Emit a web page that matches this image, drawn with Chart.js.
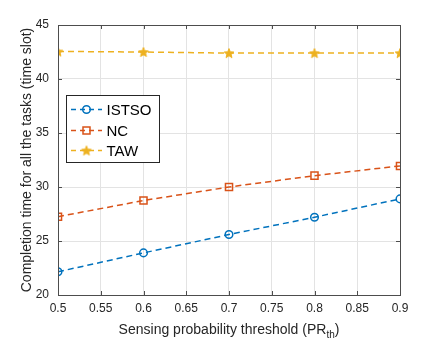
<!DOCTYPE html>
<html><head><meta charset="utf-8">
<script src="https://cdn.jsdelivr.net/npm/chart.js@4/dist/chart.umd.min.js"></script>
<style>html,body{margin:0;padding:0;background:#fff}#wrap{width:443px;height:344px}</style>
</head><body><div id="wrap"><canvas id="c" width="443" height="344"></canvas></div>
<script>
const thresholds = [0.5, 0.6, 0.7, 0.8, 0.9];
const istso = [22.15, 23.9, 25.6, 27.2, 28.9];
const nc = [27.25, 28.75, 30.0, 31.05, 31.95];
const taw = [42.55, 42.5, 42.4, 42.4, 42.4];
const seriesNames = ['ISTSO', 'NC', 'TAW'];
const xTickValues = [0.5, 0.55, 0.6, 0.65, 0.7, 0.75, 0.8, 0.85, 0.9];
const yTickValues = [20, 25, 30, 35, 40, 45];
const yTitle = 'Completion time for all the tasks (time slot)';
const xTitleMain = 'Sensing probability threshold (PR';
const xTitleSub = 'th';
const xTitleEnd = ')';

const COLORS = ['#0072BD', '#D95319', '#EDB120'];
const FONT = '"Liberation Sans", Arial, Helvetica, sans-serif';
const TXT = '#262626';

function starPath(ctx, cx, cy, R, r) {
  ctx.beginPath();
  for (let i = 0; i < 10; i++) {
    const rad = i % 2 === 0 ? R : r;
    const a = -Math.PI / 2 + i * Math.PI / 5;
    const px = cx + rad * Math.cos(a), py = cy + rad * Math.sin(a);
    if (i === 0) ctx.moveTo(px, py); else ctx.lineTo(px, py);
  }
  ctx.closePath();
}
const starImg = document.createElement('canvas');
starImg.width = 12; starImg.height = 12;
(function () {
  const g = starImg.getContext('2d');
  starPath(g, 6, 6.5, 5, 2.2);
  g.fillStyle = COLORS[2]; g.fill();
  g.strokeStyle = COLORS[2]; g.lineWidth = 1; g.stroke();
})();

function toPoints(vals) { return thresholds.map((x, i) => ({ x: x, y: vals[i] })); }

const dsBase = { borderWidth: 1.5, borderDash: [6, 4], fill: false, tension: 0, pointBorderWidth: 1.5, pointBackgroundColor: 'rgba(0,0,0,0)' };
const datasets = [
  Object.assign({}, dsBase, { label: seriesNames[0], data: toPoints(istso), borderColor: COLORS[0], pointBorderColor: COLORS[0], pointStyle: 'circle', pointRadius: 3.8 }),
  Object.assign({}, dsBase, { label: seriesNames[1], data: toPoints(nc), borderColor: COLORS[1], pointBorderColor: COLORS[1], pointStyle: 'rect', pointRadius: 5 }),
  Object.assign({}, dsBase, { label: seriesNames[2], data: toPoints(taw), borderColor: COLORS[2], pointBorderColor: COLORS[2], pointStyle: starImg, pointRadius: 5 })
];

function drawMarker(ctx, idx, x, y) {
  ctx.save();
  ctx.setLineDash([]);
  ctx.strokeStyle = COLORS[idx];
  ctx.lineWidth = 1.5;
  if (idx === 0) {
    ctx.beginPath(); ctx.arc(x, y, 3.8, 0, Math.PI * 2); ctx.stroke();
  } else if (idx === 1) {
    ctx.strokeRect(x - 3.5, y - 3.5, 7, 7);
  } else {
    ctx.drawImage(starImg, x - 6, y - 6);
  }
  ctx.restore();
}

const boxPlugin = {
  id: 'boxPlugin',
  afterDraw(chart) {
    const ctx = chart.ctx;
    const a = chart.chartArea;
    const xs = chart.scales.x, ys = chart.scales.y;
    ctx.save();
    // frame
    ctx.strokeStyle = '#4d4d4d';
    ctx.lineWidth = 1;
    ctx.strokeRect(Math.round(a.left) + 0.5, Math.round(a.top) + 0.5, Math.round(a.right - a.left), Math.round(a.bottom - a.top));
    // inward ticks
    ctx.beginPath();
    xTickValues.forEach(v => {
      const px = Math.round(xs.getPixelForValue(v)) + 0.5;
      ctx.moveTo(px, a.bottom); ctx.lineTo(px, a.bottom - 4);
      ctx.moveTo(px, a.top); ctx.lineTo(px, a.top + 4);
    });
    yTickValues.forEach(v => {
      const py = Math.round(ys.getPixelForValue(v)) + 0.5;
      ctx.moveTo(a.left, py); ctx.lineTo(a.left + 4, py);
      ctx.moveTo(a.right, py); ctx.lineTo(a.right - 4, py);
    });
    ctx.stroke();

    // x title with subscript
    ctx.fillStyle = TXT;
    ctx.textBaseline = 'alphabetic';
    const mainFont = '14px ' + FONT, subFont = '10px ' + FONT;
    ctx.font = mainFont; const w1 = ctx.measureText(xTitleMain).width; const w3 = ctx.measureText(xTitleEnd).width;
    ctx.font = subFont; const w2 = ctx.measureText(xTitleSub).width;
    const total = w1 + w2 + w3;
    let sx = (a.left + a.right) / 2 - total / 2;
    const by = 334;
    ctx.textAlign = 'left';
    ctx.font = mainFont; ctx.fillText(xTitleMain, sx, by);
    ctx.font = subFont; ctx.fillText(xTitleSub, sx + w1, by + 4);
    ctx.font = mainFont; ctx.fillText(xTitleEnd, sx + w1 + w2, by);

    // legend
    const lx = 66.5, ly = 95.5, lw = 93, lh = 67;
    ctx.fillStyle = '#ffffff';
    ctx.fillRect(lx, ly, lw, lh);
    ctx.strokeStyle = '#262626';
    ctx.lineWidth = 1;
    ctx.strokeRect(lx, ly, lw, lh);
    const rows = [109.5, 130.5, 150.5];
    seriesNames.forEach((name, i) => {
      const y = rows[i];
      ctx.strokeStyle = COLORS[i];
      ctx.lineWidth = 1.5;
      ctx.setLineDash([5, 4]);
      ctx.beginPath(); ctx.moveTo(71, y); ctx.lineTo(102, y); ctx.stroke();
      ctx.setLineDash([]);
      drawMarker(ctx, i, 86.5, y);
      ctx.fillStyle = '#000000';
      ctx.font = '15px ' + FONT;
      ctx.textAlign = 'left';
      ctx.textBaseline = 'middle';
      ctx.fillText(name, 106.5, y + 1);
    });
    ctx.restore();
  }
};

new Chart(document.getElementById('c'), {
  type: 'line',
  data: { datasets: datasets },
  options: {
    responsive: false,
    animation: false,
    devicePixelRatio: 1,
    layout: { padding: { left: 0, right: 43, top: 25, bottom: 0 } },
    plugins: { legend: { display: false }, tooltip: { enabled: false } },
    scales: {
      x: {
        type: 'linear', min: 0.5, max: 0.9,
        afterBuildTicks(s) { s.ticks = xTickValues.map(v => ({ value: v })); },
        afterFit(s) { s.height = 49; },
        grid: { color: '#e3e3e3', drawTicks: false, lineWidth: 1 },
        border: { display: false },
        ticks: { color: TXT, font: { size: 12, family: FONT }, padding: 6, maxRotation: 0, autoSkip: false,
          callback: v => String(Number(v.toFixed(2))) },
        title: { display: false }
      },
      y: {
        type: 'linear', min: 20, max: 45,
        afterBuildTicks(s) { s.ticks = yTickValues.map(v => ({ value: v })); },
        afterFit(s) { s.width = 58; },
        grid: { color: '#e3e3e3', drawTicks: false, lineWidth: 1 },
        border: { display: false },
        ticks: { color: TXT, font: { size: 12, family: FONT }, padding: 9, autoSkip: false,
          callback: v => String(v) },
        title: { display: true, text: yTitle, color: TXT, font: { size: 14, family: FONT }, padding: { top: 19, bottom: 0 } }
      }
    }
  },
  plugins: [boxPlugin]
});
</script>
</body></html>
